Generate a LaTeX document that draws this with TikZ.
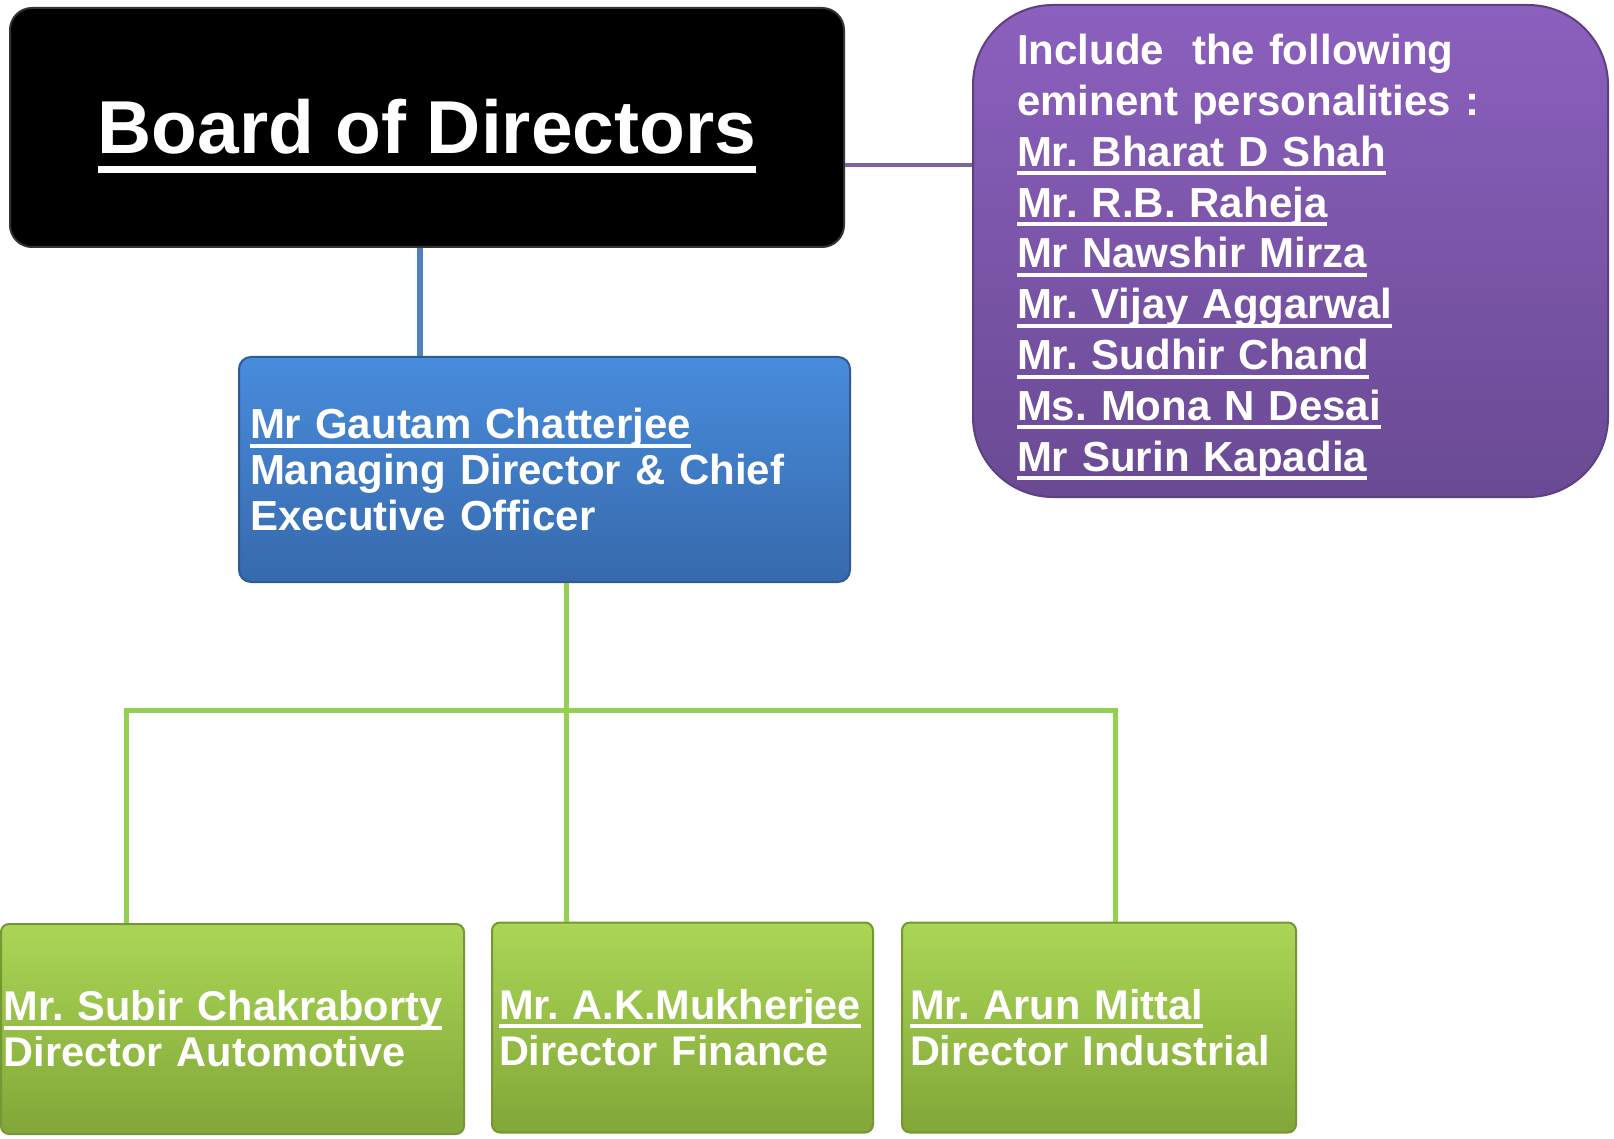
\documentclass[tikz,border=0pt]{standalone}
\usepackage{fontspec}
\setmainfont{Liberation Sans}
\usetikzlibrary{positioning}
\frenchspacing

\definecolor{mdtop}{RGB}{72,140,220}
\definecolor{mdbot}{RGB}{55,105,172}
\definecolor{mdedge}{RGB}{47,90,150}
\definecolor{pstop}{RGB}{140,96,190}
\definecolor{psbot}{RGB}{106,74,148}
\definecolor{psedge}{RGB}{92,64,130}
\definecolor{drtop}{RGB}{170,214,86}
\definecolor{drbot}{RGB}{130,166,56}
\definecolor{dredge}{RGB}{118,152,50}
\definecolor{lnblue}{RGB}{79,129,189}
\definecolor{lnpurple}{RGB}{128,100,162}
\definecolor{lngreen}{RGB}{146,208,80}

\newsavebox{\nmbox}
\newcommand{\ulbox}[3]{\sbox\nmbox{#3}\leavevmode\rlap{\rule[-#1]{\wd\nmbox}{#2}}\usebox\nmbox}
\newcommand{\nm}[1]{\ulbox{9pt}{4pt}{#1}}

\begin{document}
\begin{tikzpicture}[
        x=1pt, y=-1pt,
        every node/.style={text=white, inner ysep=0pt},
        boardbox/.style={rounded corners=22pt, fill=black, draw=black!80, line width=2pt,
            minimum width=834pt, minimum height=239pt, text height=72pt,
            font=\bfseries\fontsize{75}{90}\selectfont},
        ceobox/.style={rounded corners=12pt, top color=mdtop, bottom color=mdbot, draw=mdedge, line width=2pt,
            minimum height=225pt, inner xsep=11pt, text width=589pt, align=left,
            font=\bfseries\fontsize{42}{46}\selectfont},
        panelbox/.style={rounded corners=80pt, top color=pstop, bottom color=psbot, draw=psedge, line width=2pt,
            minimum height=492pt, inner xsep=44pt, text width=547pt, align=left,
            font=\bfseries\fontsize{42}{50.8}\selectfont},
        dirbox/.style={rounded corners=8pt, top color=drtop, bottom color=drbot, draw=dredge, line width=2pt,
            minimum height=210pt, align=left,
            font=\bfseries\fontsize{41.5}{46}\selectfont},
        blueline/.style={draw=lnblue, line width=6pt},
        purpleline/.style={draw=lnpurple, line width=4pt},
        greenline/.style={draw=lngreen, line width=5pt}
    ]
      \useasboundingbox (0,0) rectangle (1614,1139);

      \node[boardbox] (board) at (427,127.5) {\ulbox{20pt}{7pt}{Board of Directors}};
      \node[ceobox] (ceo) at (544.5,469.5)
        {\nm{Mr Gautam Chatterjee}\\Managing Director \& Chief\\Executive Officer};
      \node[panelbox] (panel) at (1290.5,251)
        {\rule{0pt}{43pt}Include\ \ the following\\eminent personalities :\\
         \nm{Mr. Bharat D Shah}\\\nm{Mr. R.B. Raheja}\\\nm{Mr Nawshir Mirza}\\
         \nm{Mr. Vijay Aggarwal}\\\nm{Mr. Sudhir Chand}\\\nm{Ms. Mona N Desai}\\
         \nm{Mr Surin Kapadia}};

      \node[dirbox, inner xsep=3pt, text width=457pt] (auto) at (232.5,1029)
        {\nm{Mr. Subir Chakraborty}\\Director Automotive};
      \node[dirbox, inner xsep=7pt, text width=367pt] (fin) at (682.5,1027.5)
        {\nm{Mr. A.K.Mukherjee}\\Director Finance};
      \node[dirbox, inner xsep=8pt, text width=378pt] (ind) at (1099,1027.5)
        {\nm{Mr. Arun Mittal}\\Director Industrial};

      % connectors
      \coordinate (tap) at ([yshift=-38pt]board.east);
      \draw[purpleline] (tap) -- (tap -| panel.west);
      \draw[blueline] ([xshift=-7pt]board.south) -- ([xshift=-7pt]board.south |- ceo.north);

      \coordinate (hub) at ([xshift=21.5pt]ceo.south);
      \coordinate (busL) at (126,710);
      \coordinate (busR) at (1115,710);
      \draw[greenline] (hub) -- (hub |- fin.north);
      \draw[greenline] (busL |- auto.north) -- (busL) -- (busR) -- (busR |- ind.north);
    \end{tikzpicture}
\end{document}
